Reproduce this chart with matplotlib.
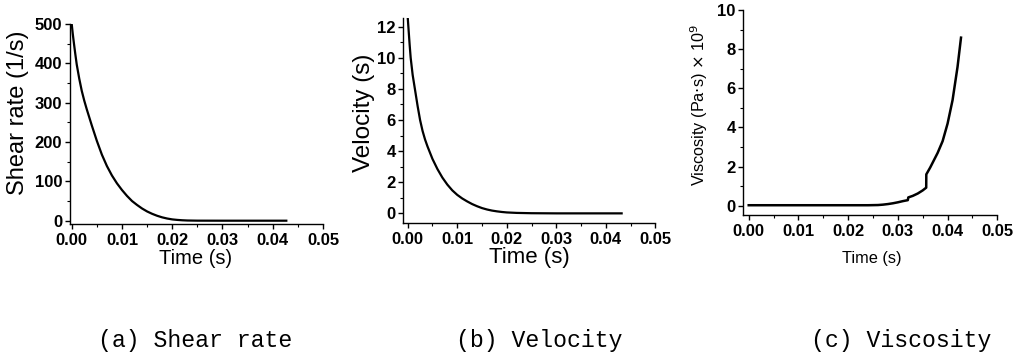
import matplotlib
matplotlib.use("Agg")
import matplotlib.pyplot as plt
from matplotlib.ticker import MultipleLocator

# ---- data ----
t_shear = [0, 0.0002, 0.0004, 0.0007, 0.001, 0.0015, 0.002, 0.0025, 0.003, 0.004, 0.005,
           0.006, 0.007, 0.008, 0.009, 0.010, 0.011, 0.012, 0.013, 0.014, 0.015, 0.016,
           0.017, 0.018, 0.019, 0.020, 0.021, 0.022, 0.023, 0.025, 0.030, 0.035, 0.040,
           0.0427]
shear_rate = [500, 476, 455, 425, 397, 361, 330, 305, 283, 242, 203,
              168, 139, 115, 95, 78, 63, 50, 40, 31, 23.5, 17.5,
              12.5, 8.5, 5.5, 3.3, 2, 1.1, 0.5, 0.1, 0, 0, 0,
              0]

t_vel = [0, 0.0002, 0.0004, 0.0006, 0.001, 0.0015, 0.002, 0.0025, 0.003, 0.0035, 0.004,
         0.005, 0.006, 0.007, 0.008, 0.009, 0.010, 0.011, 0.012, 0.013, 0.014, 0.015,
         0.016, 0.017, 0.018, 0.019, 0.020, 0.022, 0.025, 0.030, 0.035, 0.040, 0.0432]
velocity = [12.6, 11.7, 10.8, 10.0, 8.9, 7.9, 6.9, 6.0, 5.3, 4.75, 4.3,
            3.5, 2.85, 2.3, 1.85, 1.48, 1.19, 0.96, 0.77, 0.6, 0.46, 0.34,
            0.25, 0.18, 0.13, 0.09, 0.06, 0.03, 0.01, 0, 0, 0, 0]

t_visc = [0, 0.024, 0.026, 0.027, 0.028, 0.029, 0.030, 0.031, 0.032, 0.0321, 0.033,
          0.034, 0.035, 0.0357, 0.03572, 0.0365, 0.037, 0.038, 0.039, 0.040, 0.041,
          0.042, 0.0427]
viscosity = [0.02, 0.02, 0.03, 0.05, 0.08, 0.12, 0.17, 0.23, 0.28, 0.42, 0.5,
             0.62, 0.78, 0.92, 1.6, 1.95, 2.2, 2.7, 3.3, 4.2, 5.4,
             7.1, 8.6]

x_ticks = [0.00, 0.01, 0.02, 0.03, 0.04, 0.05]
x_tick_labels = ["0.00", "0.01", "0.02", "0.03", "0.04", "0.05"]

captions = ["(a) Shear rate", "(b) Velocity", "(c) Viscosity"]

W, H = 1022, 361
fig = plt.figure(figsize=(W / 100, H / 100), dpi=100)

def px_axes(x0, x1, ytop, ybot):
    return fig.add_axes([x0 / W, 1 - ybot / H, (x1 - x0) / W, (ybot - ytop) / H])

def style(ax, ymajor, yminor, fs):
    for s in ["top", "right"]:
        ax.spines[s].set_visible(False)
    for s in ["left", "bottom"]:
        ax.spines[s].set_linewidth(1.0)
    ax.set_xticks(x_ticks)
    ax.set_xticklabels(x_tick_labels)
    ax.xaxis.set_minor_locator(MultipleLocator(0.005))
    ax.yaxis.set_major_locator(MultipleLocator(ymajor))
    ax.yaxis.set_minor_locator(MultipleLocator(yminor))
    ax.tick_params(which="major", direction="out", length=3.6, width=1.0,
                   labelsize=fs)
    ax.tick_params(axis="x", which="major", pad=3.2)
    ax.tick_params(axis="y", which="major", pad=1.8)
    ax.tick_params(which="minor", direction="out", length=2.2, width=0.8)
    for lab in ax.get_xticklabels() + ax.get_yticklabels():
        lab.set_fontfamily("Liberation Sans")
        lab.set_fontweight("bold")

# (a)
ax1 = px_axes(69.5, 323, 24, 224)
ax1.plot(t_shear, shear_rate, color="black", lw=1.6)
ax1.set_xlim(-0.00044, 0.0500)
ax1.set_ylim(-8.4, 500)
style(ax1, 100, 50, 12)

# (b)
ax2 = px_axes(403.3, 655.3, 18.3, 222.7)
ax2.plot(t_vel, velocity, color="black", lw=1.6)
ax2.set_xlim(-0.00089, 0.0500)
ax2.set_ylim(-0.6, 12.54)
style(ax2, 2, 1, 12)

# (c)
ax3 = px_axes(743.3, 997.3, 10.3, 215)
ax3.plot(t_visc, viscosity, color="black", lw=1.8)
ax3.set_xlim(-0.00109, 0.0500)
ax3.set_ylim(-0.48, 10)
style(ax3, 2, 1, 12)

def ftext(x, y, s, **kw):
    fig.text(x / W, 1 - y / H, s, ha="center", va="center",
             family="Liberation Sans", **kw)

ftext(18, 112.5, "Shear rate (1/s)", rotation=90, fontsize=17)
ftext(196, 259, "Time (s)", fontsize=14.5)
ftext(364, 113, "Velocity (s)", rotation=90, fontsize=17.5)
ftext(529, 257.5, "Time (s)", fontsize=16)
ftext(699, 105, r"Viscosity (Pa$\cdot$s) $\times$ 10$^9$", rotation=90, fontsize=11.7)
ftext(872, 258, "Time (s)", fontsize=11.8)

for cx, cap in zip([195, 539, 901], captions):
    fig.text(cx / W, 1 - 340 / H, cap, ha="center", va="center",
             family="Liberation Mono", fontsize=16.7)

fig.savefig("out.png", dpi=100)
